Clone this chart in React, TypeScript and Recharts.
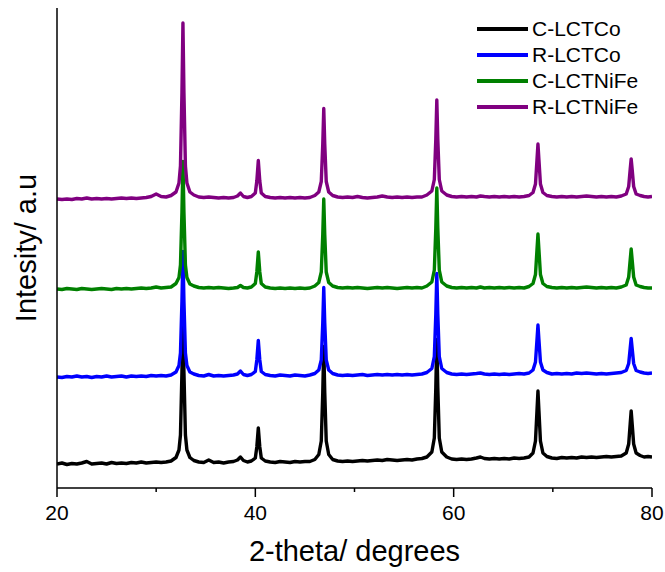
import React from 'react';
import { LineChart, Line, XAxis, YAxis, Label } from 'recharts';

const seriesNames = ['C-LCTCo', 'R-LCTCo', 'C-LCTNiFe', 'R-LCTNiFe'];
const seriesColors = ['#000000', '#0000ff', '#008000', '#800080'];
const stackOffsets = [0, 87, 174, 264];
const xTicks = [20, 30, 40, 50, 60, 70, 80];
const xTickLabels = ['20', '', '40', '', '60', '', '80'];

const twoTheta = [
  20, 20.5, 21, 21.5, 22, 22.5, 23, 23.5, 24, 24.5, 25, 25.5, 26, 26.5, 27, 27.5, 28, 28.5, 29, 29.5, 30, 30.5, 31, 31.5,
  32.0, 32.3, 32.45, 32.6, 32.7, 32.8, 32.95, 33.1, 33.4, 33.8,
  34.3, 34.8, 35.3, 35.8, 36.3, 36.8, 37.3, 37.8, 38.2, 38.5, 38.8, 39.2,
  39.6, 40.0, 40.15, 40.3, 40.45, 40.6, 41.0,
  41.5, 42, 42.5, 43, 43.5, 44, 44.5, 45, 45.5,
  46.0, 46.4, 46.65, 46.8, 46.9, 47.0, 47.15, 47.4, 47.8,
  48.3, 48.8, 49.3, 49.8, 50.3, 50.8, 51.3, 51.8, 52.3, 52.8, 53.3, 53.8, 54.3, 54.8, 55.3, 55.8, 56.3, 56.8,
  57.3, 57.8, 58.05, 58.2, 58.3, 58.4, 58.55, 58.8, 59.3,
  59.8, 60.3, 60.8, 61.3, 61.8, 62.3, 62.7, 63.1, 63.6, 64.1, 64.6, 65.1, 65.6, 66.1, 66.6, 67.1,
  67.6, 68.0, 68.25, 68.4, 68.5, 68.6, 68.75, 69.0, 69.4,
  69.9, 70.4, 70.9, 71.4, 71.9, 72.4, 72.9, 73.4, 73.9, 74.4, 74.9, 75.4, 75.9, 76.4,
  76.9, 77.4, 77.65, 77.8, 77.9, 78.0, 78.15, 78.4, 78.8,
  79.2, 79.6, 80,
];

const cLCTCo = [
  24, 25, 23.5, 24.5, 24, 25, 26.5, 24, 24.5, 25, 24, 25.5, 24.5, 25, 24.5, 25.5, 25, 26, 25, 25.5, 26, 25.5, 26, 27,
  30.5, 38, 53, 116, 176, 116, 53, 38, 30.5, 27.5,
  26, 25.5, 28, 25.5, 26, 25, 26, 26.5, 28, 31, 27.5, 26,
  27, 30, 41, 60, 41, 30, 27,
  26, 25.5, 26.5, 26, 25.5, 26.5, 26, 26.5, 26.5,
  28.5, 33.5, 47, 95.5, 141.5, 95.5, 47, 33.5, 28.5,
  27, 26.5, 27, 26.5, 27, 27.5, 27, 27.5, 28, 27.5, 28.5, 28, 27.5, 28, 28.5, 28, 29, 29.5,
  31, 36, 50, 100.5, 148.5, 100.5, 50, 36, 31,
  29, 28.5, 29, 28.5, 29, 30, 31, 29.5, 29, 29.5, 29, 29.5, 29, 30, 29.5, 30,
  31, 35, 47, 77, 97, 77, 47, 35, 31.5,
  30, 29.5, 30.5, 30, 30.5, 30, 31, 30.5, 31, 30.5, 31, 31.5, 31, 31.5,
  32, 35, 44, 64, 77, 64, 44, 35, 32.5,
  31, 31.5, 31,
];

const rLCTCo = [
  24, 23.5, 24.5, 24, 25, 24, 24.5, 23.5, 24.5, 24, 25, 24, 24.5, 25, 24, 25, 24.5, 25, 24.5, 25.5, 25, 25.5, 25, 26,
  29, 35.5, 48, 100, 149.5, 100, 48, 35.5, 29, 27,
  25.5, 25, 26.5, 25, 25.5, 25, 25.5, 26, 27, 30, 26.5, 25.5,
  26.5, 29.5, 41, 60.5, 41, 29.5, 26.5,
  25.5, 25, 26, 25.5, 25, 26, 25.5, 25, 26,
  27.5, 31, 41, 78, 113.5, 78, 41, 31, 27.5,
  26, 25.5, 26, 25.5, 26, 26.5, 25.5, 26, 26.5, 26, 26.5, 26, 26.5, 26, 26.5, 26, 26.5, 27,
  28.5, 32.5, 44.5, 87, 127.5, 87, 44.5, 32.5, 28.5,
  27, 26.5, 27, 26.5, 27, 27.5, 28, 27, 26.5, 27, 26.5, 27, 26.5, 27, 27.5, 27,
  28, 31, 39, 61, 76, 61, 39, 31, 28.5,
  27, 27.5, 27, 27.5, 27, 28, 27.5, 28, 27.5, 27, 27.5, 27, 27.5, 28,
  28.5, 30.5, 37.5, 52.5, 62.5, 52.5, 37.5, 30.5, 29,
  28, 27.5, 28,
];

const cLCTNiFe = [
  25, 24.5, 25.5, 25, 24.5, 25.5, 25, 24.5, 25, 25.5, 25, 24.5, 25.5, 25, 25.5, 25, 25.5, 26, 25.5, 26, 27, 26, 26.5, 27,
  30.5, 36.5, 49, 102, 152.5, 102, 49, 36.5, 30, 28,
  26.5, 26, 26.5, 26, 26.5, 26, 25.5, 26, 26.5, 28.5, 26.5, 26,
  27, 30.5, 42, 62, 42, 30.5, 27,
  26, 25.5, 26, 25.5, 26, 25.5, 26, 25.5, 26,
  28, 31.5, 42, 79.5, 115, 79.5, 42, 31.5, 28,
  26.5, 26, 26.5, 26, 26.5, 26, 25.5, 26, 26.5, 26, 26.5, 26, 25.5, 26, 26.5, 26, 26.5, 26,
  28, 32, 44, 86, 126, 86, 44, 32, 28,
  26.5, 26, 26.5, 26, 26.5, 26, 27, 26, 26.5, 26, 26.5, 26, 26.5, 26, 26.5, 26,
  27.5, 30.5, 39.5, 64, 80, 64, 39.5, 30.5, 27.5,
  26.5, 26, 26.5, 26, 26.5, 26, 26.5, 27, 26.5, 26, 26.5, 26, 26.5, 26,
  27, 29, 37, 54, 65, 54, 37, 29, 27.5,
  26.5, 26, 26,
];

const rLCTNiFe = [
  25, 24.5, 25, 24.5, 25.5, 25, 26, 25, 25.5, 25, 25.5, 25, 25.5, 26, 25.5, 26, 25.5, 26, 26.5, 27.5, 30, 27.5, 27, 28.5,
  32, 41, 58, 131.5, 201, 131.5, 58, 41, 32, 29,
  27, 26.5, 27, 26.5, 26, 26.5, 26, 26.5, 28, 31, 27.5, 26.5,
  27.5, 31, 43, 63.5, 43, 31, 27.5,
  26.5, 26, 26.5, 26, 26.5, 26, 26.5, 26, 26.5,
  28.5, 32, 42.5, 80, 115.5, 80, 42.5, 32, 28.5,
  27, 26.5, 27, 26.5, 27.5, 26.5, 26, 26.5, 27, 28, 27, 26.5, 27, 26.5, 27, 26.5, 27, 27,
  29, 33, 44.5, 85, 124, 85, 44.5, 33, 29,
  27.5, 27, 27.5, 27, 27.5, 27, 28, 27.5, 27, 27.5, 27, 27.5, 27, 27.5, 27, 27.5,
  28.5, 31.5, 40, 64, 80, 64, 40, 31.5, 28.5,
  27.5, 27, 27.5, 27, 27.5, 27, 27.5, 28, 27.5, 27, 27.5, 27, 27.5, 27,
  28, 30, 37.5, 54.5, 65, 54.5, 37.5, 30, 28.5,
  27.5, 27, 27.5,
];

const seriesValues = [cLCTCo, rLCTCo, cLCTNiFe, rLCTNiFe];
const seriesKeys = ['s0', 's1', 's2', 's3'];

const data = twoTheta.map((x, i) => {
  const row: Record<string, number> = { x };
  seriesValues.forEach((vals, s) => {
    row[seriesKeys[s]] = vals[i] + stackOffsets[s];
  });
  return row;
});

const FONT = '"Liberation Sans", Arial, sans-serif';

const XTick = (props: any) => {
  const { x, y, payload } = props;
  const idx = xTicks.indexOf(payload.value);
  const label = idx >= 0 ? xTickLabels[idx] : '';
  const major = label !== '';
  return (
    <g>
      <line x1={x} x2={x} y1={y} y2={y + (major ? 9 : 4)} stroke="#000" strokeWidth={1.5} />
      {major && (
        <text x={x} y={y + 32} textAnchor="middle" fontSize={21} fontFamily={FONT} fill="#000">
          {label}
        </text>
      )}
    </g>
  );
};

const LegendBox = () => (
  <div style={{ position: 'absolute', top: 16, left: 477, fontFamily: FONT, fontSize: 21, color: '#000' }}>
    {seriesNames.map((n, i) => (
      <div key={n} style={{ display: 'flex', alignItems: 'center', height: 26 }}>
        <div style={{ width: 51, height: 4, background: seriesColors[i], marginRight: 4 }} />
        <span style={{ lineHeight: '22px' }}>{n}</span>
      </div>
    ))}
  </div>
);

export default function App() {
  return (
    <div style={{ position: 'absolute', left: 0, top: 0, width: 665, height: 572, background: '#fff' }}>
      <LineChart width={665} height={572} data={data} margin={{ top: 8, right: 13, bottom: 0, left: 0 }}>
        <XAxis
          dataKey="x"
          type="number"
          domain={[20, 80]}
          ticks={xTicks}
          interval={0}
          height={84}
          tickSize={0}
          tickMargin={0}
          tickLine={false}
          stroke="#000"
          strokeWidth={1.5}
          tick={<XTick />}
          allowDataOverflow
        >
          <Label value="2-theta/ degrees" position="insideBottom" offset={11} style={{ fontSize: 29, fontFamily: FONT, fill: '#000' }} />
        </XAxis>
        <XAxis
          xAxisId="top"
          orientation="top"
          dataKey="x"
          type="number"
          domain={[20, 80]}
          height={0}
          tick={false}
          tickLine={false}
          stroke="#000"
          strokeWidth={1.5}
        />
        <YAxis
          type="number"
          domain={[0, 480]}
          width={57}
          tick={false}
          tickLine={false}
          stroke="#000"
          strokeWidth={1.5}
          allowDataOverflow
        >
          <Label value="Intesity/ a.u" angle={-90} position="center" dx={-3} style={{ fontSize: 29, fontFamily: FONT, fill: '#000' }} />
        </YAxis>
        <YAxis
          yAxisId="right"
          orientation="right"
          type="number"
          domain={[0, 480]}
          width={0}
          tick={false}
          tickLine={false}
          stroke="#000"
          strokeWidth={1.5}
        />
        {seriesKeys.map((k, i) => (
          <Line
            key={k}
            dataKey={k}
            name={seriesNames[i]}
            stroke={seriesColors[i]}
            strokeWidth={3.4}
            dot={false}
            type="linear"
            isAnimationActive={false}
            strokeLinejoin="round"
          />
        ))}
      </LineChart>
      <LegendBox />
    </div>
  );
}
